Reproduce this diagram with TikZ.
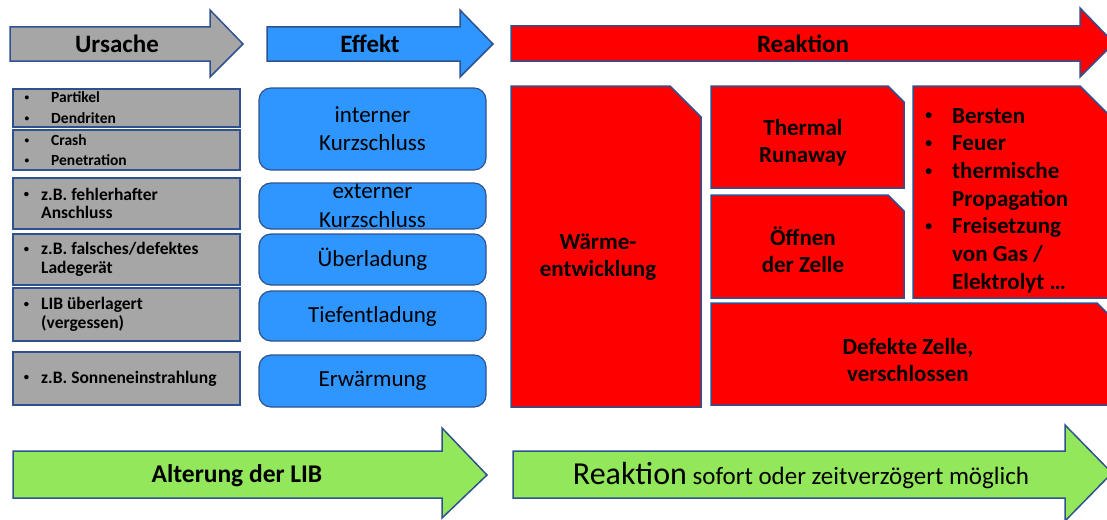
\documentclass[tikz,border=0pt]{standalone}
\usepackage{fontspec}
\setmainfont{Carlito}
\usetikzlibrary{positioning}

\definecolor{outline}{HTML}{2F528F}
\definecolor{causegray}{HTML}{A6A6A6}
\definecolor{effectblue}{HTML}{2F96FF}
\definecolor{reactred}{HTML}{FF0000}
\definecolor{agegreen}{HTML}{92E85A}

\newcommand{\smallbullet}[1]{\llap{\raisebox{0.15em}{\scalebox{0.6}{•}}\hspace{#1}}}

\tikzset{
  bigarrow/.style={draw=outline, line width=1.5pt, line join=miter},
  headtext/.style={inner sep=0pt, font=\fontsize{25}{28}\selectfont\bfseries},
  causebox/.style={rectangle, draw=outline, line width=2pt, fill=causegray,
    minimum width=227pt, inner sep=0pt},
  causetext/.style={inner sep=0pt, align=left, font=\fontsize{17.5}{18.5}\selectfont\bfseries},
  effectbox/.style={rectangle, rounded corners=12pt, draw=outline, line width=1.2pt,
    fill=effectblue, minimum width=227pt, inner sep=0pt, align=center,
    font=\fontsize{23}{28}\selectfont},
  effecttext/.style={inner sep=0pt, align=center, font=\fontsize{23}{29}\selectfont},
  reactbox/.style={draw=outline, line width=1.5pt, fill=reactred, line join=miter},
  reacttext/.style={inner sep=0pt, align=center, font=\fontsize{23}{27}\selectfont\bfseries}
}

\begin{document}
\begin{tikzpicture}[x=1pt,y=-1pt]
\useasboundingbox (0,0) rectangle (1107,519);

% Kopfzeile
\draw[bigarrow, fill=causegray] (10,27) -- (210,27) -- (210,10) -- (243,44) -- (210,77) -- (210,61) -- (10,61) -- cycle;
\draw[bigarrow, fill=effectblue] (267,27) -- (460,27) -- (460,10) -- (493,44) -- (460,77) -- (460,61) -- (267,61) -- cycle;
\draw[bigarrow, fill=reactred] (511,26) -- (1080,26) -- (1080,8) -- (1114,43) -- (1080,77) -- (1080,61) -- (511,61) -- cycle;
\node[headtext] (ursache) at (117,44) {Ursache};
\node[headtext] (effekt) at (370,44) {Effekt};
\node[headtext] (reaktion) at (803,44) {Reaktion};

% Ursachen
\node[causebox, minimum height=38pt] (c1) at (126.5,108) {};
\node[causebox, minimum height=40pt] (c2) at (126.5,150) {};
\node[causebox, minimum height=51pt] (c3) at (126.5,203.5) {};
\node[causebox, minimum height=51pt] (c4) at (126.5,259.5) {};
\node[causebox, minimum height=53pt] (c5) at (126.5,314.5) {};
\node[causebox, minimum height=53pt] (c6) at (126.5,378.5) {};

\node[causetext, font=\fontsize{15.5}{21}\selectfont\bfseries, right=39pt of c1.west] (t1)
  {\smallbullet{22pt}Partikel\\\smallbullet{22pt}Dendriten};
\node[causetext, font=\fontsize{15.5}{20}\selectfont\bfseries, right=39pt of c2.west] (t2)
  {\smallbullet{22pt}Crash\\\smallbullet{22pt}Penetration};
\node[causetext, right=29pt of c3.west] (t3) {\smallbullet{12pt}z.B. fehlerhafter\\Anschluss};
\node[causetext, right=29pt of c4.west] (t4) {\smallbullet{12pt}z.B. falsches/defektes\\Ladegerät};
\node[causetext, right=29pt of c5.west] (t5) {\smallbullet{12pt}LIB überlagert\\(vergessen)};
\node[causetext, right=29pt of c6.west] (t6) {\smallbullet{12pt}z.B. Sonneneinstrahlung};

% Effekte
\node[effectbox, minimum height=82pt] (e1) at (372.5,129) {interner\\Kurzschluss};
\node[effectbox, minimum height=46pt] (e2) at (372.5,206) {};
\node[effecttext] (e2t) at (372.5,206) {externer\\Kurzschluss};
\node[effectbox, minimum height=51pt] (e3) at (372.5,259.5) {Überladung};
\node[effectbox, minimum height=50pt] (e4) at (372.5,316) {Tiefentladung};
\node[effectbox, minimum height=52pt] (e5) at (372.5,381) {Erwärmung};

% Reaktionen
\draw[reactbox] (511,86) -- (670,86) -- (701,117) -- (701,407) -- (511,407) -- cycle;
\draw[reactbox] (711,86) -- (888,86) -- (904,102) -- (904,188) -- (711,188) -- cycle;
\draw[reactbox] (711,195) -- (888,195) -- (904,211) -- (904,298) -- (711,298) -- cycle;
\draw[reactbox] (913,86) -- (1080,86) -- (1112,118) -- (1112,298) -- (913,298) -- cycle;
\draw[reactbox] (711,303) -- (1097,303) -- (1115,321) -- (1115,405) -- (711,405) -- cycle;

\node[reacttext] (waerme) at (598,257) {Wärme-\\entwicklung};
\node[reacttext] (runaway) at (803,143) {Thermal\\Runaway};
\node[reacttext] (oeffnen) at (803,250) {Öffnen\\der Zelle};
\node[reacttext] (defekt) at (908,360) {Defekte Zelle,\\verschlossen};
\node[reacttext, align=left, anchor=north west, font=\fontsize{23}{27.7}\selectfont\bfseries] (folgen) at (952,108)
  {\smallbullet{20pt}Bersten\\\smallbullet{20pt}Feuer\\\smallbullet{20pt}thermische\\Propagation\\
   \smallbullet{20pt}Freisetzung\\von Gas /\\Elektrolyt \dots};

% Fusszeile
\draw[bigarrow, fill=agegreen] (13,451) -- (442,451) -- (442,428) -- (487,475) -- (442,518) -- (442,498) -- (13,498) -- cycle;
\draw[bigarrow, fill=agegreen] (513,451) -- (1065,451) -- (1065,425) -- (1112,473) -- (1065,521) -- (1065,498) -- (513,498) -- cycle;
\node[headtext, font=\fontsize{25.5}{28}\selectfont\bfseries] (alterung) at (237,476) {Alterung der LIB};
\node[inner sep=0pt, font=\fontsize{25}{30}\selectfont] (sofort) at (801,476)
  {{\fontsize{32}{34}\selectfont Reaktion} sofort oder zeitverzögert möglich};
\end{tikzpicture}
\end{document}
